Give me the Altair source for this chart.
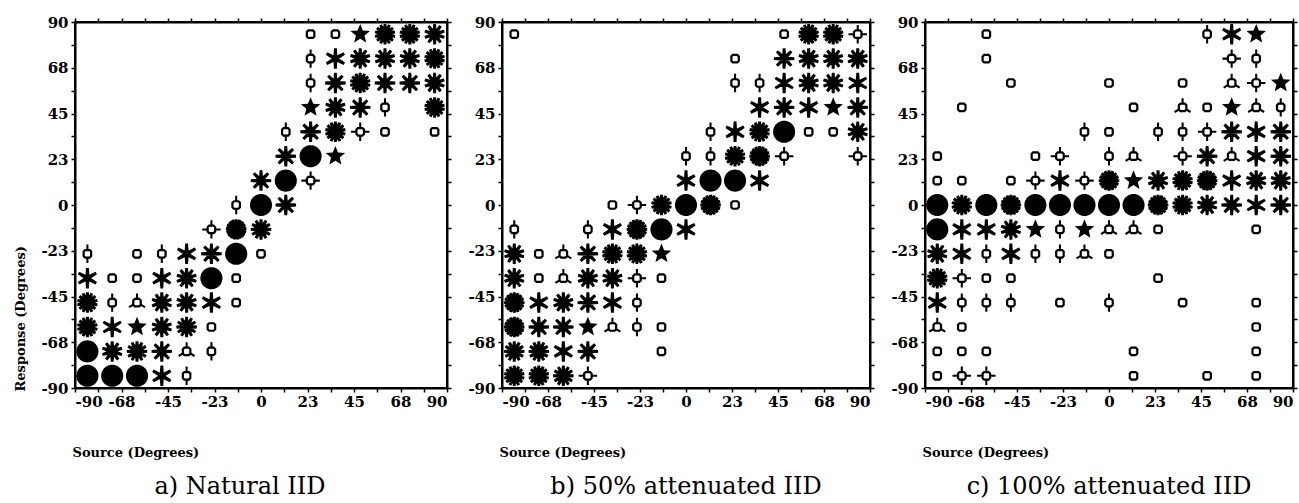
import math
import altair as alt
import pandas as pd

# ---------------- data ----------------
# bin centres (degrees) of the 15 source columns (left->right) and 15 response rows (top->bottom)
source_bins = [-84, -72, -60, -48, -36, -24, -12, 0, 12, 24, 36, 48, 60, 72, 84]
response_bins = [84, 72, 60, 48, 36, 24, 12, 0, -12, -24, -36, -48, -60, -72, -84]

# number of responses per cell (sunflower petals), rows top->bottom, columns left->right
counts_natural = [
    [0, 0, 0, 0, 0, 0, 0, 0, 0, 1, 1, 5, 14, 14, 10],
    [0, 0, 0, 0, 0, 0, 0, 0, 0, 2, 6, 10, 10, 10, 14],
    [0, 0, 0, 0, 0, 0, 0, 0, 0, 2, 8, 14, 8, 8, 10],
    [0, 0, 0, 0, 0, 0, 0, 0, 0, 5, 10, 8, 2, 0, 14],
    [0, 0, 0, 0, 0, 0, 0, 0, 2, 8, 14, 4, 1, 0, 1],
    [0, 0, 0, 0, 0, 0, 0, 0, 8, 20, 5, 0, 0, 0, 0],
    [0, 0, 0, 0, 0, 0, 0, 8, 20, 4, 0, 0, 0, 0, 0],
    [0, 0, 0, 0, 0, 0, 2, 20, 8, 0, 0, 0, 0, 0, 0],
    [0, 0, 0, 0, 0, 4, 17, 12, 0, 0, 0, 0, 0, 0, 0],
    [2, 0, 1, 2, 6, 8, 20, 1, 0, 0, 0, 0, 0, 0, 0],
    [6, 1, 1, 6, 10, 20, 1, 0, 0, 0, 0, 0, 0, 0, 0],
    [14, 2, 3, 10, 10, 6, 1, 0, 0, 0, 0, 0, 0, 0, 0],
    [14, 6, 5, 10, 12, 1, 0, 0, 0, 0, 0, 0, 0, 0, 0],
    [20, 10, 12, 8, 3, 2, 0, 0, 0, 0, 0, 0, 0, 0, 0],
    [20, 20, 20, 6, 2, 0, 0, 0, 0, 0, 0, 0, 0, 0, 0],
]
counts_50 = [
    [1, 0, 0, 0, 0, 0, 0, 0, 0, 0, 0, 1, 14, 14, 4],
    [0, 0, 0, 0, 0, 0, 0, 0, 0, 1, 0, 8, 10, 10, 10],
    [0, 0, 0, 0, 0, 0, 0, 0, 0, 2, 2, 6, 10, 10, 6],
    [0, 0, 0, 0, 0, 0, 0, 0, 0, 0, 6, 8, 6, 5, 8],
    [0, 0, 0, 0, 0, 0, 0, 0, 2, 6, 14, 20, 1, 1, 10],
    [0, 0, 0, 0, 0, 0, 0, 2, 2, 14, 16, 4, 0, 0, 4],
    [0, 0, 0, 0, 0, 0, 0, 6, 20, 20, 6, 0, 0, 0, 0],
    [0, 0, 0, 0, 1, 4, 14, 20, 16, 1, 0, 0, 0, 0, 0],
    [2, 0, 0, 2, 6, 16, 20, 6, 0, 0, 0, 0, 0, 0, 0],
    [10, 1, 3, 8, 14, 14, 5, 0, 0, 0, 0, 0, 0, 0, 0],
    [10, 1, 3, 10, 10, 4, 1, 0, 0, 0, 0, 0, 0, 0, 0],
    [16, 6, 10, 8, 6, 2, 0, 0, 0, 0, 0, 0, 0, 0, 0],
    [16, 8, 8, 5, 3, 2, 1, 0, 0, 0, 0, 0, 0, 0, 0],
    [12, 12, 6, 8, 0, 0, 1, 0, 0, 0, 0, 0, 0, 0, 0],
    [14, 14, 12, 4, 0, 0, 0, 0, 0, 0, 0, 0, 0, 0, 0],
]
counts_100 = [
    [0, 0, 1, 0, 0, 0, 0, 0, 0, 0, 0, 2, 6, 5, 0],
    [0, 0, 1, 0, 0, 0, 0, 0, 0, 0, 0, 0, 4, 2, 0],
    [0, 0, 0, 1, 0, 0, 0, 1, 0, 0, 1, 0, 3, 4, 5],
    [0, 1, 0, 0, 0, 0, 0, 0, 1, 0, 3, 1, 5, 3, 2],
    [0, 0, 0, 0, 0, 0, 2, 1, 0, 2, 2, 4, 8, 6, 8],
    [1, 0, 0, 0, 1, 4, 0, 2, 3, 0, 4, 8, 3, 6, 8],
    [1, 1, 0, 1, 4, 6, 4, 16, 5, 10, 14, 16, 6, 10, 10],
    [20, 14, 20, 16, 20, 20, 20, 20, 20, 16, 14, 10, 8, 6, 8],
    [20, 6, 6, 10, 5, 2, 5, 3, 3, 1, 0, 0, 0, 1, 0],
    [10, 6, 2, 6, 2, 2, 3, 1, 0, 0, 0, 0, 0, 0, 0],
    [14, 4, 1, 1, 0, 0, 0, 0, 0, 1, 0, 0, 0, 0, 0],
    [6, 2, 2, 2, 0, 1, 0, 2, 0, 0, 1, 0, 0, 1, 0],
    [3, 1, 0, 0, 0, 0, 0, 0, 0, 0, 0, 0, 0, 1, 0],
    [1, 1, 1, 0, 0, 0, 0, 0, 1, 0, 0, 0, 0, 1, 0],
    [1, 4, 4, 0, 0, 0, 0, 0, 1, 0, 0, 1, 0, 1, 0],
]

panel_names = ["a) Natural IID", "b) 50% attenuated IID", "c) 100% attenuated IID"]
tick_values = [-90, -78.75, -67.5, -56.25, -45, -33.75, -22.5, -11.25, 0,
               11.25, 22.5, 33.75, 45, 56.25, 67.5, 78.75, 90]
tick_labels = ["-90", "", "-68", "", "-45", "", "-23", "", "0",
               "", "23", "", "45", "", "68", "", "90"]


# ---------------- sunflower glyph shapes (style) ----------------
def poly(pts):
    area = sum(x1 * y2 - x2 * y1 for (x1, y1), (x2, y2) in zip(pts, pts[1:] + pts[:1]))
    if area < 0:
        pts = pts[::-1]
    return "M" + "L".join(f"{x:.3f},{y:.3f}" for x, y in pts) + "Z"


def spoke(theta, r0, r1, w0, w1):
    dx, dy = math.sin(theta), -math.cos(theta)
    px, py = math.cos(theta), math.sin(theta)
    return poly([(r0 * dx + w0 * px, r0 * dy + w0 * py),
                 (r1 * dx + w1 * px, r1 * dy + w1 * py),
                 (r1 * dx - w1 * px, r1 * dy - w1 * py),
                 (r0 * dx - w0 * px, r0 * dy - w0 * py)])


def disk(r, m=44):
    return poly([(r * math.cos(2 * math.pi * i / m), r * math.sin(2 * math.pi * i / m)) for i in range(m)])


def glyph(n):
    if n <= 4:
        return "".join(spoke(2 * math.pi * i / n, 0, 0.9, 0.1, 0.1) for i in range(n))
    if n == 5:
        pts = []
        for i in range(5):
            for r, off in ((1.0, 0.0), (0.44, 0.5)):
                a = 2 * math.pi * (i + off) / 5
                pts.append((r * math.sin(a), -r * math.cos(a)))
        return poly(pts)
    rc = min(1.08, 0.3 + (n - 6) * 0.058)
    return disk(rc) + "".join(spoke(2 * math.pi * i / n, 0, 1.0, 0.21, 0.14) for i in range(n))


ring_path = "M-0.6,-1L0.6,-1L1,-0.6L1,0.6L0.6,1L-0.6,1L-1,0.6L-1,-0.6Z"

records = []
for name, grid in zip(panel_names, [counts_natural, counts_50, counts_100]):
    for i, row in enumerate(grid):
        for j, n in enumerate(row):
            if n > 0:
                records.append({"panel": name, "src": source_bins[j], "resp": response_bins[i], "n": n})
df = pd.DataFrame(records)

petal_domain = sorted(v for v in df["n"].unique().tolist() if v >= 2)
petal_range = [glyph(v) for v in petal_domain]

label_expr = ("[" + ",".join(f"'{t}'" for t in tick_labels) + "][indexof(["
              + ",".join(str(v) for v in tick_values) + "], datum.value)]")

SERIF = "DejaVu Serif"
axis_common = dict(values=tick_values, labelExpr=label_expr, labelFont=SERIF, labelFontSize=15,
                   labelFontWeight="bold", labelColor="black", tickColor="black", tickSize=4,
                   tickWidth=1.5, domainColor="black", domainWidth=2, grid=False,
                   titleFont=SERIF, titleFontSize=13, titleFontWeight="bold", titleColor="black")


def panel(name, width, show_ytitle, dx):
    d = df[df["panel"] == name]
    xs = alt.Scale(domain=[-90, 90], nice=False, zero=False)
    ys = alt.Scale(domain=[-90, 90], nice=False, zero=False)
    xaxis = alt.Axis(orient="bottom", title="Source (Degrees)", titleX=-3, titleY=68,
                     titleAlign="left", titleBaseline="alphabetic", labelPadding=2, **axis_common)
    if show_ytitle:
        yaxis = alt.Axis(orient="left", title="Response (Degrees)", titleAngle=-90, titleX=-51,
                         titleY=369, titleAlign="left", titleBaseline="alphabetic", labelPadding=3,
                         **axis_common)
    else:
        yaxis = alt.Axis(orient="left", title=None, labelPadding=3, **axis_common)
    base = alt.Chart(d)
    petals = base.transform_filter("datum.n >= 2").mark_point(
        filled=True, fill="black", strokeWidth=0, opacity=1, size=420
    ).encode(
        x=alt.X("src:Q", scale=xs, axis=xaxis),
        y=alt.Y("resp:Q", scale=ys, axis=yaxis),
        shape=alt.Shape("n:O", scale=alt.Scale(domain=petal_domain, range=petal_range), legend=None),
    )
    rings = base.transform_filter("datum.n <= 4").mark_point(
        shape=ring_path, filled=True, fill="white", stroke="black", strokeWidth=2.2, opacity=1, size=56
    ).encode(x=alt.X("src:Q", scale=xs, axis=None), y=alt.Y("resp:Q", scale=ys, axis=None))
    frame = base.mark_point(opacity=0).encode(
        x=alt.X("src:Q", scale=xs, axis=alt.Axis(orient="top", labels=False, title=None, values=tick_values,
                                                    tickColor="black", tickSize=4, tickWidth=1.5,
                                                    domainColor="black", domainWidth=2, grid=False)),
        y=alt.Y("resp:Q", scale=ys, axis=alt.Axis(orient="right", labels=False, title=None, values=tick_values,
                                                     tickColor="black", tickSize=4, tickWidth=1.5,
                                                     domainColor="black", domainWidth=2, grid=False)),
    )
    return alt.layer(petals, rings, frame).resolve_axis(x="independent", y="independent").properties(
        width=width, height=366,
        title=alt.TitleParams(text=name, orient="bottom", font=SERIF, fontSize=24, fontWeight="normal",
                              color="black", offset=16, frame="group", anchor="middle", dx=dx),
    )


chart = alt.hconcat(
    panel(panel_names[0], 372, True, -21),
    panel(panel_names[1], 368, False, 0),
    panel(panel_names[2], 368, False, 0),
    spacing=13,
).properties(
    padding={"left": 13, "top": 14, "right": 0, "bottom": 0},
    background="white",
).configure_view(stroke="black", strokeWidth=2)

chart.save("out.html", embed_options={"renderer": "svg", "actions": False})
